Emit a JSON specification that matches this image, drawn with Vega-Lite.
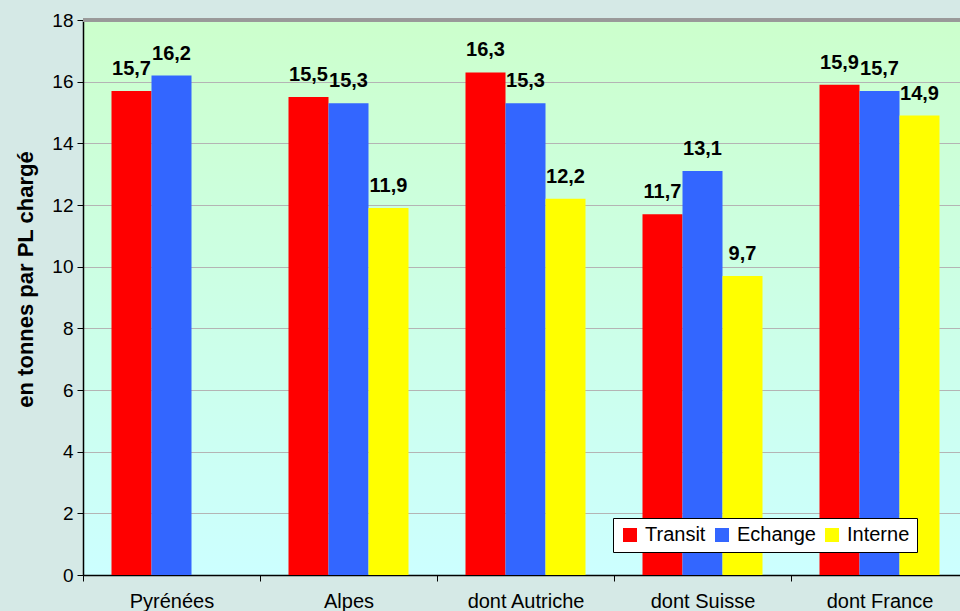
{
  "$schema": "https://vega.github.io/schema/vega-lite/v6.json",
  "autosize": {"type": "none"},
  "width": 885,
  "height": 555,
  "padding": {"left": 83, "top": 20, "right": 0, "bottom": 36},
  "background": "#d5e9e6",
  "config": {
    "font": "Liberation Sans",
    "locale": {"number": {"decimal": ",", "thousands": " ", "grouping": [3], "currency": ["", " €"]}},
    "view": {"stroke": null, "fill": {"gradient": "linear", "x1": 0, "y1": 0, "x2": 0, "y2": 1, "stops": [{"offset": 0, "color": "#ccffcc"}, {"offset": 1, "color": "#ccffff"}]}}
  },
  "data": {
    "values": [
      {"zone": "Pyrénées", "type": "Transit", "val": 15.7},
      {"zone": "Pyrénées", "type": "Echange", "val": 16.2},
      {"zone": "Alpes", "type": "Transit", "val": 15.5},
      {"zone": "Alpes", "type": "Echange", "val": 15.3},
      {"zone": "Alpes", "type": "Interne", "val": 11.9},
      {"zone": "dont Autriche", "type": "Transit", "val": 16.3},
      {"zone": "dont Autriche", "type": "Echange", "val": 15.3},
      {"zone": "dont Autriche", "type": "Interne", "val": 12.2},
      {"zone": "dont Suisse", "type": "Transit", "val": 11.7},
      {"zone": "dont Suisse", "type": "Echange", "val": 13.1},
      {"zone": "dont Suisse", "type": "Interne", "val": 9.7},
      {"zone": "dont France", "type": "Transit", "val": 15.9},
      {"zone": "dont France", "type": "Echange", "val": 15.7},
      {"zone": "dont France", "type": "Interne", "val": 14.9}
    ]
  },
  "encoding": {
    "x": {
      "field": "zone", "type": "nominal", "sort": null,
      "scale": {"paddingInner": 0, "paddingOuter": 0},
      "axis": {"title": null, "labelAngle": 0, "labelFontSize": 20, "labelColor": "#000", "labelPadding": 10,
               "domainColor": "#000", "domainWidth": 1.5, "tickColor": "#000", "tickSize": 6, "tickBand": "extent", "grid": false}
    },
    "xOffset": {"field": "type", "type": "nominal", "scale": {"domain": ["Transit", "Echange", "Interne"], "paddingInner": 0, "paddingOuter": 0.7125}}
  },
  "layer": [
    {
      "mark": {"type": "bar"},
      "encoding": {
        "y": {
          "field": "val", "type": "quantitative",
          "scale": {"domain": [0, 18]},
          "axis": {"title": "en tonnes par PL chargé", "titleFontSize": 22, "titleFontWeight": "bold", "titleColor": "#000", "titlePadding": 14, "titleY": 259,
                   "values": [0, 2, 4, 6, 8, 10, 12, 14, 16, 18], "labelFontSize": 19, "labelColor": "#000", "labelPadding": 4,
                   "domainColor": "#000", "domainWidth": 1.5, "tickColor": "#000", "tickSize": 6,
                   "gridColor": "#b4b4b4", "gridWidth": 1}
        },
        "color": {
          "field": "type", "type": "nominal",
          "scale": {"domain": ["Transit", "Echange", "Interne"], "range": ["#ff0000", "#3366ff", "#ffff00"]},
          "legend": {"title": null, "orient": "none", "legendX": 530, "legendY": 498, "direction": "horizontal",
                     "fillColor": "#ffffff", "strokeColor": "#000", "padding": 7, "symbolType": "square", "symbolSize": 196,
                     "symbolStrokeWidth": 0, "labelFontSize": 20, "labelColor": "#000", "labelOffset": 5, "columnPadding": 6}
        }
      }
    },
    {
      "mark": {"type": "text", "fontSize": 20, "fontWeight": "bold", "color": "#000", "baseline": "alphabetic", "dy": -16},
      "encoding": {
        "y": {"field": "val", "type": "quantitative"},
        "text": {"field": "val", "type": "quantitative", "format": ".1f"}
      }
    },
    {
      "mark": {"type": "rule", "color": "#999999", "strokeWidth": 3},
      "encoding": {"y": {"datum": 18}, "x": null, "xOffset": null}
    }
  ]
}
